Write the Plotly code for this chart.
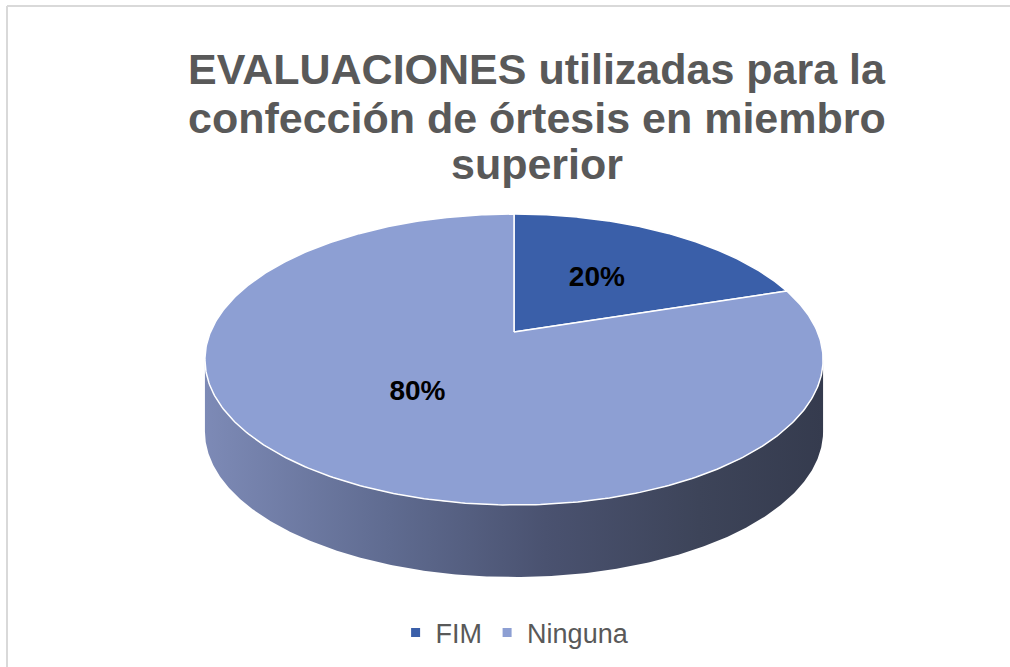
import numpy as np
import plotly.graph_objects as go

# ---- data ----
categories = ["FIM", "Ninguna"]
values = [20, 80]
slice_colors = ["#3a5fa9", "#8d9fd3"]
title_lines = ["EVALUACIONES utilizadas para la",
               "confección de órtesis en miembro",
               "superior"]

# ---- geometry of the 3D-looking pie (pixel space) ----
W, H = 1010, 667
CX, CY = 514.0, 332.0      # apex of the pie on screen
RX, RY = 303.5, 140.3      # ellipse radii
DPERSP = 5.29              # perspective depth factor
THICK = 72.0               # side thickness in px


def proj(theta_deg, r=1.0):
    t = np.radians(theta_deg)
    u = r * np.sin(t)
    v = -r * np.cos(t)
    s = DPERSP / (DPERSP - v)
    return CX + RX * u * s, CY + RY * v * s


total = float(sum(values))
fracs = [v / total for v in values]
starts = np.cumsum([0.0] + fracs[:-1]) * 360.0
ends = starts + np.array(fracs) * 360.0

fig = go.Figure()

# ---- side (front rim) ----
th = np.linspace(0, 360, 3601)
xs_all, _ = proj(th)
th_R = th[np.argmax(xs_all)]
th_L = th[np.argmin(xs_all)]
front = np.linspace(th_R, th_L, 400)
fx, fy = proj(front)
side_x = np.concatenate([fx, fx[::-1]])
side_y = np.concatenate([fy, fy[::-1] + THICK])
fig.add_trace(go.Scatter(
    x=side_x, y=side_y, mode="lines", fill="toself",
    line=dict(width=0, color="rgba(0,0,0,0)"),
    fillgradient=dict(type="horizontal",
                      colorscale=[[0, "#7d8ab6"], [0.3, "#5f6b90"],
                                  [0.55, "#4a5270"], [0.8, "#3d4459"],
                                  [1, "#353b4e"]]),
    hoverinfo="skip", showlegend=False))

# ---- top face slices ----
for cat, a0, a1, col in zip(categories, starts, ends, slice_colors):
    arc = np.linspace(a0, a1, 400)
    ax, ay = proj(arc)
    px = np.concatenate([[CX], ax, [CX]])
    py = np.concatenate([[CY], ay, [CY]])
    fig.add_trace(go.Scatter(
        x=px, y=py, mode="lines", fill="toself", fillcolor=col,
        line=dict(color="white", width=1.5),
        hoverinfo="skip", showlegend=False, name=cat))

# ---- data labels ----
mids = (starts + ends) / 2.0
lx, ly = proj(mids, 0.5)
fig.add_trace(go.Scatter(
    x=lx, y=ly, mode="text",
    text=[f"{v / total * 100:.0f}%" for v in values],
    textfont=dict(family="Liberation Sans, Arial, sans-serif", size=28,
                  color="black", weight="bold"),
    hoverinfo="skip", showlegend=False))

# ---- legend entries ----
for cat, col in zip(categories, slice_colors):
    fig.add_trace(go.Scatter(
        x=[None], y=[None], mode="markers", name=cat,
        marker=dict(symbol="square", size=9, color=col)))

# ---- title ----
title_y = [69, 118, 164]
annotations = []
for line, yy in zip(title_lines, title_y):
    annotations.append(dict(
        text=line, x=537, y=yy, xref="x", yref="y",
        xanchor="center", yanchor="middle", showarrow=False,
        font=dict(family="Liberation Sans, Arial, sans-serif", size=43,
                  color="#595959", weight="bold")))

border = dict(color="#d9d9d9", width=2)
fig.update_layout(
    width=W, height=H,
    margin=dict(l=0, r=0, t=0, b=0),
    paper_bgcolor="white", plot_bgcolor="white",
    xaxis=dict(range=[0, W], visible=False, fixedrange=True),
    yaxis=dict(range=[H, 0], visible=False, fixedrange=True),
    annotations=annotations,
    showlegend=True,
    legend=dict(orientation="h", x=0.51, y=0.051, xanchor="center",
                yanchor="middle",
                font=dict(family="Liberation Sans, Arial, sans-serif",
                          size=27, color="#595959"),
                bgcolor="rgba(0,0,0,0)"),
    shapes=[
        dict(type="line", xref="paper", yref="paper",
             x0=7 / W, y0=1 - 6 / H, x1=1.0, y1=1 - 6 / H,
             line=border, layer="below"),
        dict(type="line", xref="paper", yref="paper",
             x0=7 / W, y0=1 - 6 / H, x1=7 / W, y1=0.0,
             line=border, layer="below"),
    ],
)

fig.write_html(
    "out.html",
    config={"displayModeBar": False},
    post_script="document.body.style.margin='0px';"
                "document.body.style.padding='0px';"
                "document.body.style.overflow='hidden';",
)
